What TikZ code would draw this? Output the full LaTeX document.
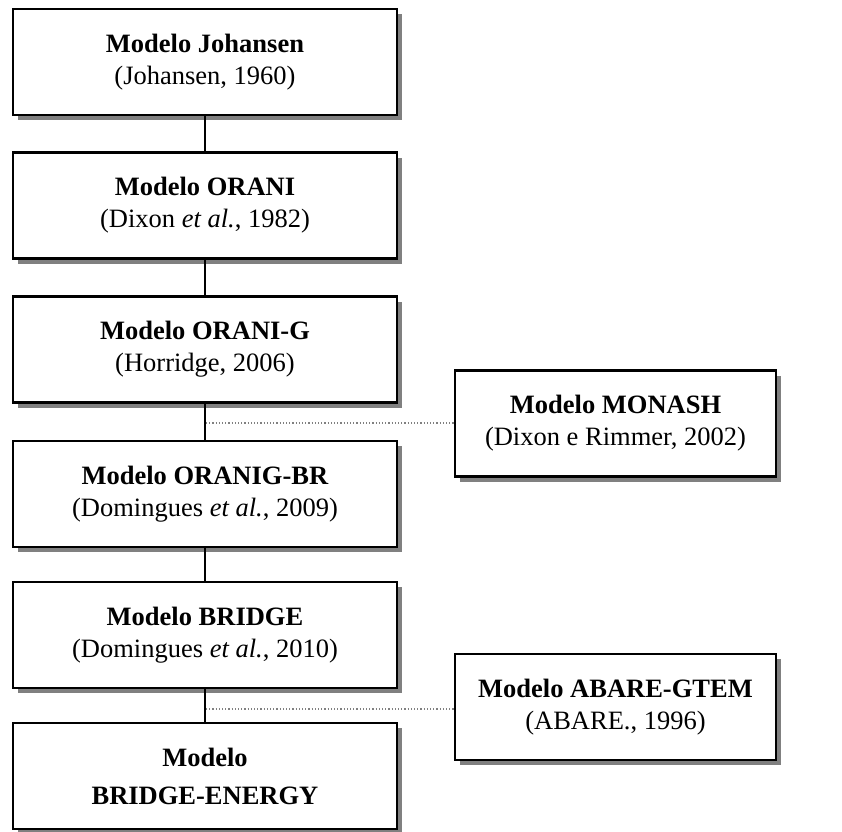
\documentclass[tikz,border=0pt]{standalone}
\usepackage{fontspec}
\setmainfont{Liberation Serif}
\usetikzlibrary{shadows}

\tikzset{
  modelbox/.style={draw, line width=2.4pt, fill=white, inner sep=0pt,
    minimum width=384pt, minimum height=106pt, align=center,
    font=\fontsize{26.5}{32}\selectfont,
    drop shadow={shadow xshift=5pt, shadow yshift=-5pt, fill=gray, opacity=1}},
  sidebox/.style={modelbox, minimum width=321pt},
  link/.style={line width=1.4pt},
  dotlink/.style={gray, line width=1.2pt, dotted}
}

\begin{document}
\begin{tikzpicture}[x=1pt,y=-1pt]
\useasboundingbox (0,0) rectangle (842,831);

% Main chain
\node[modelbox] (johansen) at (205,62)
{\textbf{Modelo Johansen}\\(Johansen, 1960)};

\node[modelbox] (orani) at (205,205.5)
{\textbf{Modelo ORANI}\\(Dixon \textit{et al.}, 1982)};

\node[modelbox] (oranig) at (205,349.5)
{\textbf{Modelo ORANI-G}\\(Horridge, 2006)};

\node[modelbox] (oranigbr) at (205,494)
{\textbf{Modelo ORANIG-BR}\\(Domingues \textit{et al.}, 2009)};

\node[modelbox] (bridge) at (205,635)
{\textbf{Modelo BRIDGE}\\(Domingues \textit{et al.}, 2010)};

\node[modelbox, font=\fontsize{26.5}{38}\selectfont] (energy) at (205,776)
{\textbf{Modelo}\\\textbf{BRIDGE-ENERGY}};


% Side models
\node[sidebox] (monash) at (615.5,423.5)
{\textbf{Modelo MONASH}\\(Dixon e Rimmer, 2002)};

\node[sidebox] (abare) at (615.5,707)
{\textbf{Modelo ABARE-GTEM}\\(ABARE., 1996)};


% Connectors
\draw[link] (johansen) -- (orani);
\draw[link] (orani) -- (oranig);
\draw[link] (oranig) -- (oranigbr);
\draw[link] (oranigbr) -- (bridge);
\draw[link] (bridge) -- (energy);

\coordinate (jmonash) at (206,423);
\coordinate (jabare) at (206,709);
\draw[dotlink] (jmonash) -- (jmonash -| monash.west);
\draw[dotlink] (jabare) -- (jabare -| abare.west);

\end{tikzpicture}
\end{document}
